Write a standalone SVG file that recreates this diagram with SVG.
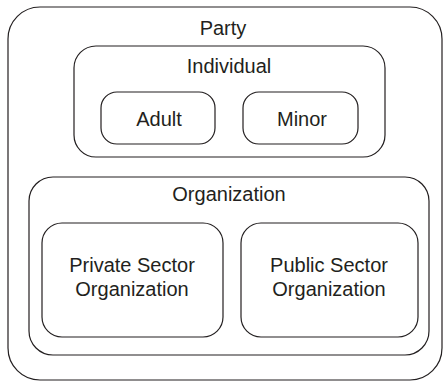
<svg xmlns="http://www.w3.org/2000/svg" width="444" height="381" viewBox="0 0 444 381">
<style>
rect{fill:none;stroke:#231f20;stroke-width:1.2}
text{font-family:"Liberation Sans",Arial,sans-serif;font-size:20px;fill:#231f20;text-anchor:middle}
</style>
<rect width="444" height="381" fill="#fff" style="fill:#fff;stroke:none"/>
<g id="party">
<rect x="8" y="7" width="434" height="373" rx="32"/>
<text x="223" y="35">Party</text>
</g>
<g id="individual">
<rect x="74" y="46" width="311" height="111" rx="22"/>
<text x="229" y="73">Individual</text>
</g>
<g id="adult">
<rect x="101" y="92" width="114" height="52" rx="16"/>
<text x="159" y="126">Adult</text>
</g>
<g id="minor">
<rect x="243" y="92" width="115" height="52" rx="16"/>
<text x="302" y="126">Minor</text>
</g>
<g id="organization">
<rect x="29" y="177" width="400" height="178" rx="24"/>
<text x="229" y="201">Organization</text>
</g>
<g id="private">
<rect x="42" y="223" width="181" height="114" rx="20"/>
<text x="132" y="272">Private Sector</text>
<text x="132" y="296">Organization</text>
</g>
<g id="public">
<rect x="241" y="223" width="177" height="114" rx="20"/>
<text x="329" y="272">Public Sector</text>
<text x="329" y="296">Organization</text>
</g>
<g id="connectors"/>
</svg>
